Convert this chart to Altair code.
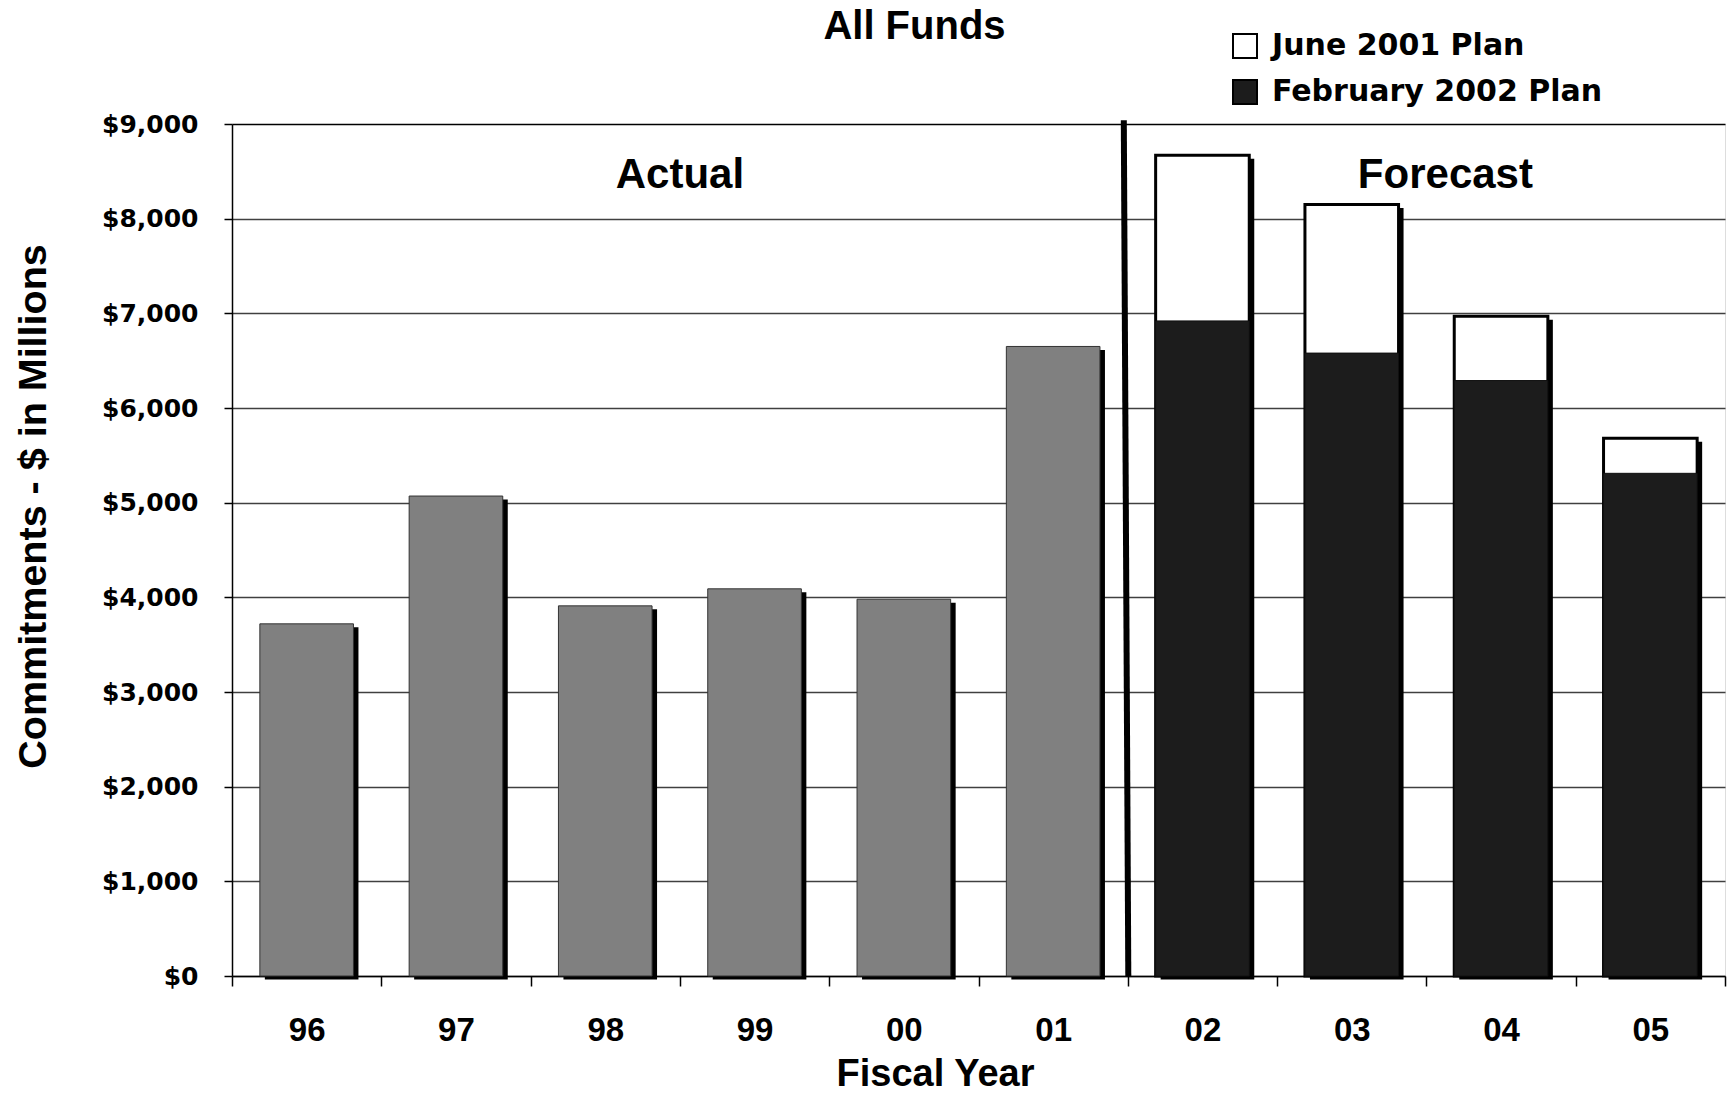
import altair as alt
import pandas as pd

# Fiscal years on the category axis
years = ["96", "97", "98", "99", "00", "01", "02", "03", "04", "05"]

# Actual commitments ($ millions)
actual_years = ["96", "97", "98", "99", "00", "01"]
actual_values = [3720, 5070, 3910, 4090, 3980, 6650]

# Forecast commitments under the two plans ($ millions)
forecast_years = ["02", "03", "04", "05"]
june_2001_plan = [8670, 8150, 6970, 5680]
feb_2002_plan = [6920, 6580, 6290, 5310]
plan_names = ["June 2001 Plan", "February 2002 Plan"]

y_ticks = [0, 1000, 2000, 3000, 4000, 5000, 6000, 7000, 8000, 9000]

actual_df = pd.DataFrame({"year": actual_years, "value": actual_values})
plan_df = pd.DataFrame({
    "year": forecast_years + forecast_years,
    "plan": [plan_names[0]] * len(forecast_years) + [plan_names[1]] * len(forecast_years),
    "value": june_2001_plan + feb_2002_plan,
})
# Full bar height per year (used for the drop shadow)
totals_df = pd.DataFrame({
    "year": actual_years + forecast_years,
    "value": actual_values + june_2001_plan,
})

SANS = "Liberation Sans, Arial, Helvetica, sans-serif"
WIDE = "DejaVu Sans, Verdana, sans-serif"

x_scale = alt.Scale(domain=years, paddingInner=0, paddingOuter=0)
y_scale = alt.Scale(domain=[0, 9000], nice=False, zero=True)

x_axis = alt.Axis(
    title="Fiscal Year", labelAngle=0, grid=False,
    domainColor="black", domainWidth=1.5,
    tickColor="black", tickWidth=1.5, tickSize=10, tickBand="extent",
    labelFont=SANS, labelFontWeight="bold", labelFontSize=33, labelColor="black",
    labelBaseline="alphabetic", labelPadding=54,
    titleFont=SANS, titleFontWeight="bold", titleFontSize=38, titleColor="black",
    titleX=703, titleY=109, titleAlign="center", titleBaseline="alphabetic",
)
y_axis = alt.Axis(
    title="Commitments  - $ in Millions", values=y_ticks, format="$,d",
    grid=True,
    gridColor={"condition": {"test": "datum.value === 9000", "value": "black"}, "value": "#404040"},
    gridWidth=1.5,
    domainColor="black", domainWidth=1.5,
    tickColor="black", tickWidth=1.5, tickSize=8,
    labelFont=WIDE, labelFontWeight="bold", labelFontSize=25, labelColor="black",
    labelPadding=26, labelBaseline="middle",
    titleFont=SANS, titleFontWeight="bold", titleFontSize=39.5, titleColor="black",
    titleAngle=270, titleX=-187, titleY=382, titleAlign="center", titleBaseline="alphabetic",
)

bar_width = alt.RelativeBandSize(0.627)

def xf():
    return alt.X("year:N", scale=x_scale, axis=x_axis, sort=years)

def yf():
    return alt.Y("value:Q", scale=y_scale, axis=y_axis)

plan_color = alt.Color(
    "plan:N",
    scale=alt.Scale(domain=plan_names, range=["white", "#1c1c1c"]),
    legend=alt.Legend(
        title=None, orient="none", legendX=998, legendY=-93, direction="vertical",
        symbolType="square", symbolSize=576, symbolStrokeColor="black", symbolStrokeWidth=2,
        labelFont=WIDE, labelFontWeight="bold", labelFontSize=30, labelColor="black",
        labelOffset=12, rowPadding=14, padding=0, labelLimit=0,
    ),
)

shadow = alt.Chart(totals_df).mark_bar(
    fill="black", width=bar_width, xOffset=5, yOffset=3.5, y2Offset=3.5
).encode(x=xf(), y=yf())

actual = alt.Chart(actual_df).mark_bar(
    fill="#808080", stroke="#333333", strokeWidth=1, width=bar_width
).encode(x=xf(), y=yf())

june = alt.Chart(plan_df).transform_filter(
    alt.datum.plan == plan_names[0]
).mark_bar(stroke="black", strokeWidth=3, width=bar_width).encode(
    x=xf(), y=yf(), color=plan_color
)

feb = alt.Chart(plan_df).transform_filter(
    alt.datum.plan == plan_names[1]
).mark_bar(stroke="#111111", strokeWidth=1, width=bar_width).encode(
    x=xf(), y=yf(), color=plan_color
)

# Divider between actual and forecast years
divider = alt.Chart(pd.DataFrame({"edge": ["02"]})).mark_rule(
    color="black", strokeWidth=6, xOffset=-4, x2Offset=0.5
).encode(
    x=alt.X("edge:N", bandPosition=0, scale=x_scale, axis=x_axis),
    x2=alt.X2("edge:N", bandPosition=0),
    y=alt.Y(datum=9040, type="quantitative", scale=y_scale, axis=y_axis),
    y2=alt.Y2(datum=0),
)

def label_layer(text, year, size, y_value, dx=0, dy=0):
    return alt.Chart(pd.DataFrame({"label": [text], "year": [year]})).mark_text(
        font=SANS, fontWeight="bold", fontSize=size, color="black",
        align="center", baseline="alphabetic", dx=dx, dy=dy,
    ).encode(
        x=alt.X("year:N", bandPosition=0, scale=x_scale, axis=x_axis),
        y=alt.Y(datum=y_value, type="quantitative", scale=y_scale, axis=y_axis),
        text="label:N",
    )

title_text = label_layer("All Funds", "01", 40, 9000, dx=-64, dy=-85)
actual_label = label_layer("Actual", "99", 42, 8320)
forecast_label = label_layer("Forecast", "04", 42, 8320, dx=19)

chart = alt.layer(
    shadow, actual, june, feb, divider, actual_label, forecast_label, title_text
).properties(
    width=1493,
    height=852,
    autosize=alt.AutoSizeParams(type="none"),
    padding={"left": 232, "top": 124, "right": 2, "bottom": 119},
).configure_view(
    stroke="black", strokeWidth=2
).configure(background="white")

chart.save("out.html", embed_options={"renderer": "svg", "actions": False})
